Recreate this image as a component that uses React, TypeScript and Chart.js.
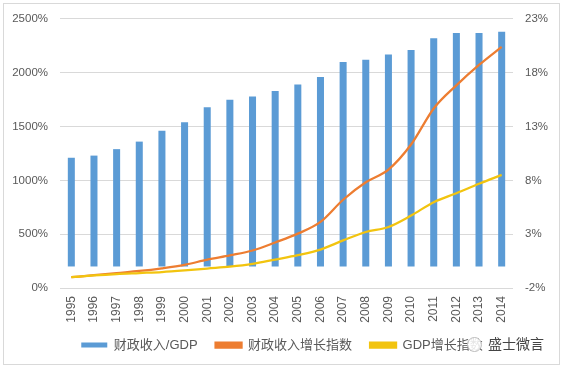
import React, { useEffect, useRef } from 'react';
import { Chart, registerables } from 'chart.js';

Chart.register(...registerables);

const years = ['1995', '1996', '1997', '1998', '1999', '2000', '2001', '2002', '2003', '2004', '2005', '2006', '2007', '2008', '2009', '2010', '2011', '2012', '2013', '2014'];
const revenueToGdp = [10.1, 10.3, 10.9, 11.6, 12.6, 13.4, 14.8, 15.5, 15.8, 16.3, 16.9, 17.6, 19.0, 19.2, 19.7, 20.1, 21.2, 21.7, 21.7, 21.8];
const revenueIndex = [100, 119, 139, 158, 183, 215, 263, 303, 348, 423, 505, 614, 820, 982, 1100, 1333, 1668, 1883, 2072, 2240];
const gdpIndex = [100, 117, 130, 139, 148, 163, 181, 198, 224, 264, 305, 357, 442, 520, 567, 673, 797, 880, 968, 1051];
const leftTicks = [0, 500, 1000, 1500, 2000, 2500];
const rightTicks = [-2, 3, 8, 13, 18, 23];
const seriesNames = ['财政收入/GDP', '财政收入增长指数', 'GDP增长指数'];
const watermark = '盛士微言';

const FONT = "'Liberation Sans', 'Noto Sans CJK SC', sans-serif";
const GRAY = '#595959';

// Legend keeps wide item spacing (padding 18) but sits closer to the axis labels.
const legendFitPlugin = {
  id: 'legendFit',
  beforeLayout(chart: any) {
    const lg = chart.legend;
    if (lg && !lg._fitPatched) {
      const orig = lg.fit.bind(lg);
      lg.fit = function () {
        orig();
        this.height -= 8;
      };
      lg._fitPatched = true;
    }
  },
  afterLayout(chart: any) {
    const lg = chart.legend;
    if (lg) {
      lg.top -= 7.5;
      lg.bottom -= 7.5;
    }
  },
};

export default function App() {
  const ref = useRef<HTMLCanvasElement>(null);

  useEffect(() => {
    Chart.defaults.font.family = FONT;
    const chart = new Chart(ref.current as HTMLCanvasElement, {
      type: 'bar',
      plugins: [legendFitPlugin],
      data: {
        labels: years,
        datasets: [
          {
            type: 'bar',
            label: seriesNames[0],
            data: revenueToGdp,
            yAxisID: 'y1',
            backgroundColor: '#5B9BD5',
            borderWidth: 0,
            barPercentage: 0.31,
            categoryPercentage: 1,
            order: 2,
          } as any,
          {
            type: 'line',
            label: seriesNames[1],
            data: revenueIndex,
            yAxisID: 'y',
            borderColor: '#ED7D31',
            backgroundColor: '#ED7D31',
            borderWidth: 2.25,
            pointRadius: 0,
            cubicInterpolationMode: 'monotone',
            order: 1,
          } as any,
          {
            type: 'line',
            label: seriesNames[2],
            data: gdpIndex,
            yAxisID: 'y',
            borderColor: '#F2C40F',
            backgroundColor: '#F2C40F',
            borderWidth: 2.25,
            pointRadius: 0,
            cubicInterpolationMode: 'monotone',
            order: 0,
          } as any,
        ],
      },
      options: {
        responsive: false,
        animation: false,
        layout: { padding: { top: 8.5, bottom: 6, left: 0, right: 0 } },
        plugins: {
          tooltip: { enabled: false },
          legend: {
            position: 'bottom',
            labels: {
              boxWidth: 26,
              boxHeight: 5,
              padding: 18,
              color: GRAY,
              font: { size: 13, family: FONT },
              sort: (a: any, b: any) => a.datasetIndex - b.datasetIndex,
            },
          },
        },
        scales: {
          x: {
            grid: { display: false, drawTicks: false },
            border: { display: false },
            ticks: {
              minRotation: 90,
              maxRotation: 90,
              autoSkip: false,
              padding: 8,
              color: GRAY,
              font: { size: 12, family: FONT },
            },
            afterFit: (s: any) => { s.height = 40; },
          },
          y: {
            position: 'left',
            min: 0,
            max: 2500,
            afterBuildTicks: (s: any) => { s.ticks = leftTicks.map((v) => ({ value: v })); },
            ticks: {
              padding: 12,
              color: GRAY,
              font: { size: 11.5, family: FONT },
              callback: (v: any) => v + '%',
            },
            grid: { color: '#D9D9D9', drawTicks: false, lineWidth: 1 },
            border: { display: false },
            afterFit: (s: any) => { s.width = 60; },
          },
          y1: {
            position: 'right',
            min: -2,
            max: 23,
            afterBuildTicks: (s: any) => { s.ticks = rightTicks.map((v) => ({ value: v })); },
            ticks: {
              padding: 12,
              color: GRAY,
              font: { size: 11.5, family: FONT },
              callback: (v: any) => v + '%',
            },
            grid: { display: false, drawTicks: false },
            border: { display: false },
            afterFit: (s: any) => { s.width = 51; },
          },
        },
      } as any,
    });
    return () => chart.destroy();
  }, []);

  return (
    <div style={{ position: 'fixed', left: 0, top: 0, width: 564, height: 367, background: '#fff' }}>
      <canvas ref={ref} width={564} height={367} style={{ position: 'absolute', left: 0, top: 0 }} />
      <div style={{ position: 'absolute', left: 3, top: 3, width: 555, height: 360, border: '1px solid #D9D9D9', pointerEvents: 'none' }} />
      <div style={{ position: 'absolute', left: 467, top: 337, width: 13, height: 13, borderRadius: '50%', border: '1px solid #bbb', background: 'rgba(255,255,255,0.85)' }} />
      <div style={{ position: 'absolute', left: 488, top: 334, fontFamily: "'Noto Sans CJK SC', sans-serif", fontSize: 14, color: '#444', lineHeight: '18px', whiteSpace: 'nowrap' }}>{watermark}</div>
    </div>
  );
}
